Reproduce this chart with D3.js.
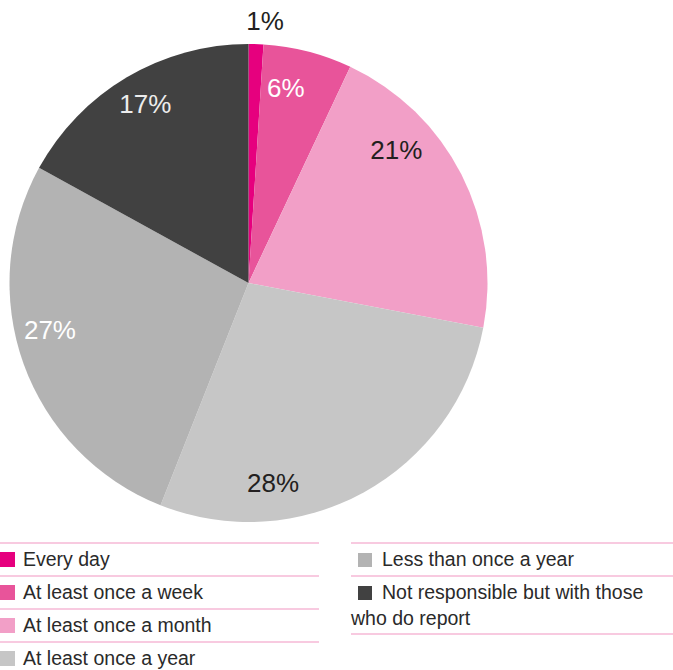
<!DOCTYPE html>
<html>
<head>
<meta charset="utf-8">
<script src="https://cdn.jsdelivr.net/npm/d3@7"></script>
<style>
  html, body { margin: 0; padding: 0; background: #fff; }
  svg { display: block; }
  text { font-family: "Liberation Sans", Arial, Helvetica, sans-serif; }
</style>
</head>
<body>
<svg id="chart" width="673" height="670"></svg>
<script>
// Survey shares, clockwise from 12 o'clock
const categories = [
  "Every day",
  "At least once a week",
  "At least once a month",
  "At least once a year",
  "Less than once a year",
  "Not responsible but with those who do report"
];
const values = [1, 6, 21, 28, 27, 17];
const colors = ["#e6007e", "#e8549a", "#f29fc7", "#c6c6c6", "#b3b3b3", "#414141"];
const labelColors = ["#231f20", "#ffffff", "#231f20", "#231f20", "#ffffff", "#ececec"];

// Label placement: polar position (degrees clockwise from top, radius in px)
const labelAngles = [3.6, 10.8, 48.0, 173.0, 256.7, 330.1];
const labelRadii = [263, 199, 199, 201, 204, 207];

const svg = d3.select("#chart");
const cx = 248.5, cy = 283, R = 239;

const pie = d3.pie().sort(null).value(d => d.value);
const arc = d3.arc().innerRadius(0).outerRadius(R);
const data = categories.map((c, i) => ({ name: c, value: values[i], color: colors[i], i }));
const arcs = pie(data);

const g = svg.append("g").attr("transform", `translate(${cx},${cy})`);
g.selectAll("path.slice")
  .data(arcs)
  .join("path")
  .attr("class", "slice")
  .attr("d", arc)
  .attr("fill", d => d.data.color);

g.selectAll("text.pct")
  .data(arcs)
  .join("text")
  .attr("class", "pct")
  .attr("x", d => labelRadii[d.index] * Math.sin(labelAngles[d.index] * Math.PI / 180))
  .attr("y", d => -labelRadii[d.index] * Math.cos(labelAngles[d.index] * Math.PI / 180))
  .attr("dy", "0.36em")
  .attr("text-anchor", "middle")
  .attr("font-size", 26)
  .attr("fill", d => labelColors[d.index])
  .text(d => d.data.value + "%");

// Legend
const ruleColor = "#f6b9d6";
const legendFont = 19.5;
const legendInk = "#2a2a2a";

function rule(x1, x2, y) {
  svg.append("line")
    .attr("x1", x1).attr("x2", x2)
    .attr("y1", y).attr("y2", y)
    .attr("stroke", ruleColor).attr("stroke-width", 1.5);
}

// Left column
const leftRows = [0, 1, 2, 3];
const rowStep = 33;
const top0 = 543;
leftRows.forEach((k, j) => {
  const y0 = top0 + j * rowStep;
  rule(0, 319, y0);
  svg.append("rect")
    .attr("x", 0).attr("y", y0 + 9)
    .attr("width", 15).attr("height", 15)
    .attr("fill", colors[k]);
  svg.append("text")
    .attr("x", 23).attr("y", y0 + 23)
    .attr("font-size", legendFont)
    .attr("fill", legendInk)
    .text(categories[k]);
});

// Right column
const rx = 351;
rule(rx, 673, top0);
svg.append("rect")
  .attr("x", rx + 7).attr("y", top0 + 10)
  .attr("width", 14).attr("height", 14)
  .attr("fill", colors[4]);
svg.append("text")
  .attr("x", rx + 31).attr("y", top0 + 23)
  .attr("font-size", legendFont)
  .attr("fill", legendInk)
  .text(categories[4]);

rule(rx, 673, top0 + rowStep);
svg.append("rect")
  .attr("x", rx + 7).attr("y", top0 + rowStep + 10)
  .attr("width", 14).attr("height", 14)
  .attr("fill", colors[5]);
const words = categories[5].split(" ");
const t = svg.append("text")
  .attr("font-size", legendFont)
  .attr("fill", legendInk);
t.append("tspan").attr("x", rx + 31).attr("y", top0 + rowStep + 23)
  .text(words.slice(0, 5).join(" "));
t.append("tspan").attr("x", rx).attr("y", top0 + rowStep + 49)
  .text(words.slice(5).join(" "));
rule(rx, 673, 634);
</script>
</body>
</html>
